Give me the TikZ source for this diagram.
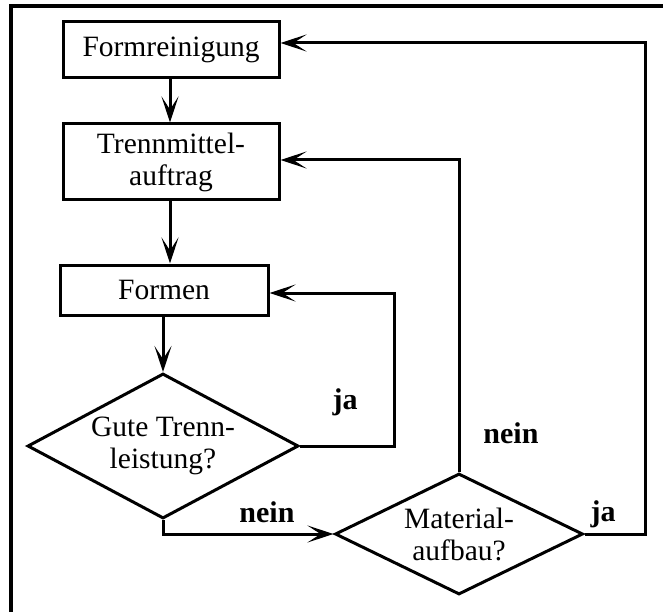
\documentclass[tikz,border=0pt]{standalone}
\usepackage{fontspec}
\setmainfont{Liberation Serif}
\usetikzlibrary{arrows.meta,shapes.geometric}
\begin{document}
\begin{tikzpicture}[x=1pt,y=-1pt,
  line width=3pt,
  every node/.style={font=\fontsize{29.5}{32}\selectfont},
  boxstyle/.style={draw, rectangle, inner sep=0pt, align=center},
  decstyle/.style={draw, diamond, inner sep=0pt, align=center},
  lbl/.style={font=\fontsize{30}{32}\selectfont\bfseries},
  arr/.style={-{Stealth[length=26pt,width=17pt,inset=13pt]}, line width=3pt}
]
\useasboundingbox (0,0) rectangle (663,612);
\clip (0,0) rectangle (663,612);
\draw[line width=3.2pt] (11,6) rectangle (700,650);

\node[boxstyle, minimum width=216pt, minimum height=56pt] (f1) at (171,50) {Formreinigung};
\node[boxstyle, minimum width=216pt, minimum height=76pt] (f2) at (171,162) {Trennmittel-\\auftrag};
\node[boxstyle, minimum width=208pt, minimum height=50pt] (f3) at (164,290) {Formen};
\node[decstyle, minimum width=271pt, minimum height=145pt, aspect=1.87] (d1) at (163,446) {Gute Trenn-\\leistung?};
\node[decstyle, minimum width=248pt, minimum height=121pt, aspect=2.05] (d2) at (459,534) {Material-\\aufbau?};

\coordinate (c1) at (394,446);
\coordinate (c2) at (394,293);
\coordinate (c3) at (645,534);
\coordinate (c4) at (645,43);
\coordinate (c5) at (459,160);

\draw[arr] (f1.south -| 170,0) -- (f2.north -| 170,0);
\draw[arr] (f2.south -| 170,0) -- (f3.north -| 170,0);
\draw[arr] (d1.north |- f3.south) -- (d1.north);
\draw[arr] (d1.east) -- (c1) -- (c2) -- (f3.east |- c2);
\draw[arr] (d1.south) -- (d1.south |- d2.west) -- (d2.west);
\draw[arr] (d2.north) -- (c5) -- (f2.east |- c5);
\draw[arr] (d2.east) -- (c3) -- (c4) -- (f1.east |- c4);

\node[lbl] (l1) at (345,402) {ja};
\node[lbl] (l2) at (267,512) {nein};
\node[lbl] (l3) at (511,433) {nein};
\node[lbl] (l4) at (603,514) {ja};
\end{tikzpicture}
\end{document}
